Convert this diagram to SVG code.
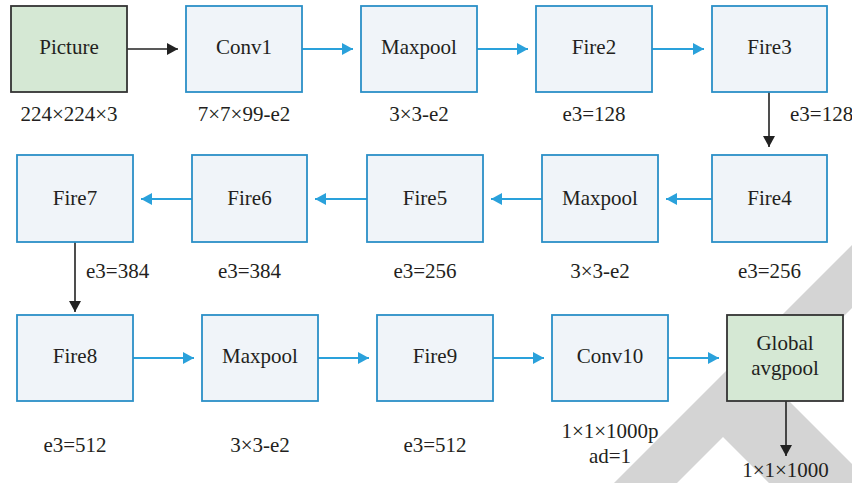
<svg xmlns="http://www.w3.org/2000/svg" width="852" height="483" viewBox="0 0 852 483">
<style>
text{font-size:21px;fill:#231f20;text-anchor:middle}
.b{fill:#f0f4f9;stroke:#2b8fc7;stroke-width:1.8}
.g{fill:#d5e8d4;stroke:#333;stroke-width:1.8}
.cb{stroke:#2aa1db;stroke-width:1.8;fill:none}
.ck{stroke:#222;stroke-width:1.6;fill:none}
.l{text-anchor:start}
</style>
<defs>
<marker id="ab" markerUnits="userSpaceOnUse" markerWidth="12" markerHeight="13" refX="11" refY="6" orient="auto"><path d="M0,0 L11,6 L0,12 z" fill="#2aa1db"/></marker>
<marker id="ak" markerUnits="userSpaceOnUse" markerWidth="12" markerHeight="13" refX="11" refY="6" orient="auto"><path d="M0,0 L11,6 L0,12 z" fill="#222"/></marker>
</defs>
<rect width="852" height="483" fill="#fff"/>
<polygon points="852,245 614,483 677,483 723,437 769,483 852,483 852,464 774,386 852,308" fill="#d4d4d4"/>
<g id="connectors">
<line class="ck" x1="127" y1="49" x2="178" y2="49" marker-end="url(#ak)"/>
<line class="cb" x1="302" y1="49" x2="353" y2="49" marker-end="url(#ab)"/>
<line class="cb" x1="477" y1="49" x2="528" y2="49" marker-end="url(#ab)"/>
<line class="cb" x1="652" y1="49" x2="704" y2="49" marker-end="url(#ab)"/>
<line class="ck" x1="769" y1="92" x2="769" y2="147" marker-end="url(#ak)"/>
<line class="cb" x1="712" y1="199" x2="666" y2="199" marker-end="url(#ab)"/>
<line class="cb" x1="542" y1="199" x2="491" y2="199" marker-end="url(#ab)"/>
<line class="cb" x1="367" y1="199" x2="315" y2="199" marker-end="url(#ab)"/>
<line class="cb" x1="192" y1="199" x2="141" y2="199" marker-end="url(#ab)"/>
<line class="ck" x1="75" y1="242" x2="75" y2="312" marker-end="url(#ak)"/>
<line class="cb" x1="133" y1="358" x2="194" y2="358" marker-end="url(#ab)"/>
<line class="cb" x1="318" y1="358" x2="369" y2="358" marker-end="url(#ab)"/>
<line class="cb" x1="493" y1="358" x2="544" y2="358" marker-end="url(#ab)"/>
<line class="cb" x1="668" y1="358" x2="719" y2="358" marker-end="url(#ab)"/>
<line class="ck" x1="786" y1="401" x2="786" y2="456" marker-end="url(#ak)"/>
</g>
<g font-family="Liberation Serif, DejaVu Serif, serif">
<g id="picture"><rect class="g" x="11" y="6" width="116" height="86"/><text x="69" y="54">Picture</text><text x="69" y="120.5">224×224×3</text></g>
<g id="conv1"><rect class="b" x="186" y="6" width="116" height="86"/><text x="244" y="54">Conv1</text><text x="244" y="120.5">7×7×99-e2</text></g>
<g id="maxpool1"><rect class="b" x="361" y="6" width="116" height="86"/><text x="419" y="54">Maxpool</text><text x="419" y="120.5">3×3-e2</text></g>
<g id="fire2"><rect class="b" x="536" y="6" width="116" height="86"/><text x="594" y="54">Fire2</text><text x="594" y="120.5">e3=128</text></g>
<g id="fire3"><rect class="b" x="712" y="6" width="115" height="86"/><text x="769.5" y="54">Fire3</text><text class="l" x="790" y="120.5">e3=128</text></g>
<g id="fire4"><rect class="b" x="712" y="155" width="115" height="87"/><text x="769.5" y="205">Fire4</text><text x="769.5" y="278">e3=256</text></g>
<g id="maxpool2"><rect class="b" x="542" y="155" width="116" height="87"/><text x="600" y="205">Maxpool</text><text x="600" y="278">3×3-e2</text></g>
<g id="fire5"><rect class="b" x="367" y="155" width="116" height="87"/><text x="425" y="205">Fire5</text><text x="425" y="278">e3=256</text></g>
<g id="fire6"><rect class="b" x="192" y="155" width="115" height="87"/><text x="249.5" y="205">Fire6</text><text x="249.5" y="278">e3=384</text></g>
<g id="fire7"><rect class="b" x="17" y="155" width="116" height="87"/><text x="75" y="205">Fire7</text><text class="l" x="86" y="278">e3=384</text></g>
<g id="fire8"><rect class="b" x="17" y="315" width="116" height="86"/><text x="75" y="363">Fire8</text><text x="75" y="451.5">e3=512</text></g>
<g id="maxpool3"><rect class="b" x="202" y="315" width="116" height="86"/><text x="260" y="363">Maxpool</text><text x="260" y="451.5">3×3-e2</text></g>
<g id="fire9"><rect class="b" x="377" y="315" width="116" height="86"/><text x="435" y="363">Fire9</text><text x="435" y="451.5">e3=512</text></g>
<g id="conv10"><rect class="b" x="552" y="315" width="116" height="86"/><text x="610" y="363">Conv10</text><text x="610" y="438">1×1×1000p</text><text x="610" y="463">ad=1</text></g>
<g id="globalavgpool"><rect class="g" x="727" y="315" width="116" height="86"/><text x="785" y="350">Global</text><text x="785" y="375">avgpool</text><text x="785.5" y="477">1×1×1000</text></g>
</g>
</svg>
